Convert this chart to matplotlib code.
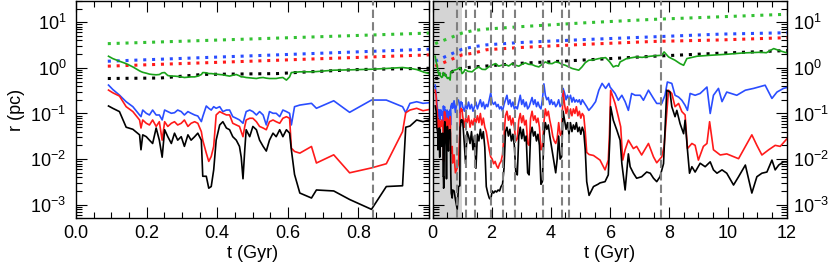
import numpy as np
import matplotlib.pyplot as plt
from matplotlib.ticker import MultipleLocator, LogLocator, NullFormatter

plt.rcParams['font.family'] = ['Liberation Sans', 'DejaVu Sans']
plt.rcParams['mathtext.fontset'] = 'custom'
plt.rcParams['mathtext.rm'] = 'Liberation Sans'
plt.rcParams['mathtext.it'] = 'Liberation Sans:italic'

# ---- first Gyr (shown in the left panel and in the grey band on the right)
t_early = [0.092, 0.104, 0.123, 0.142, 0.161, 0.180, 0.184, 0.189, 0.199, 0.208,
           0.217, 0.227, 0.236, 0.244, 0.251, 0.260, 0.270, 0.279, 0.288, 0.298,
           0.307, 0.317, 0.326, 0.336, 0.345, 0.355, 0.359, 0.369, 0.376, 0.383,
           0.390, 0.397, 0.407, 0.416, 0.426, 0.435, 0.444, 0.454, 0.463, 0.468,
           0.473, 0.478, 0.482, 0.492, 0.501, 0.511, 0.520, 0.530, 0.539, 0.548,
           0.558, 0.567, 0.577, 0.586, 0.596, 0.605,
           0.610, 0.619, 0.634, 0.667, 0.681, 0.730, 0.775, 0.837, 0.879, 0.925,
           0.934, 0.946, 0.965, 0.983, 1.000]

black_early = [0.146, 0.13, 0.11, 0.050, 0.045, 0.034, 0.016, 0.034, 0.031, 0.026,
               0.022, 0.048, 0.026, 0.011, 0.044, 0.031, 0.022, 0.037, 0.026, 0.031,
               0.019, 0.034, 0.026, 0.031, 0.037, 0.026, 0.0042, 0.0042, 0.0023, 0.0025,
               0.0058, 0.026, 0.056, 0.066, 0.048, 0.044, 0.031, 0.026, 0.019, 0.011,
               0.0037, 0.016, 0.044, 0.031, 0.052, 0.044, 0.026, 0.019, 0.015, 0.026,
               0.037, 0.031, 0.044, 0.031, 0.044, 0.037,
               0.016, 0.0046, 0.0018, 0.0014, 0.0021, 0.0020, 0.0013, 0.00079, 0.0025, 0.0026,
               0.050, 0.053, 0.072, 0.066, 0.072]

red_early = [0.326, 0.285, 0.241, 0.141, 0.11, 0.072, 0.048, 0.072, 0.061, 0.056,
             0.072, 0.052, 0.066, 0.026, 0.066, 0.052, 0.061, 0.066, 0.056, 0.061,
             0.072, 0.052, 0.061, 0.066, 0.061, 0.040, 0.026, 0.0135, 0.0089, 0.0114,
             0.019, 0.093, 0.11, 0.101, 0.093, 0.093, 0.061, 0.056, 0.052, 0.040,
             0.031, 0.052, 0.072, 0.0785, 0.0785, 0.066, 0.052, 0.048, 0.044, 0.066,
             0.072, 0.066, 0.061, 0.0785, 0.085, 0.0785,
             0.0174, 0.0147, 0.0135, 0.0189, 0.0082, 0.0124, 0.0050, 0.0064, 0.0079, 0.040,
             0.104, 0.119, 0.13, 0.115, 0.122]

blue_early = [0.42, 0.337, 0.253, 0.181, 0.141, 0.0927, 0.0853, 0.119, 0.101, 0.0927,
              0.119, 0.0927, 0.0927, 0.0722, 0.119, 0.11, 0.101, 0.104, 0.119, 0.11,
              0.0927, 0.11, 0.101, 0.0927, 0.0881, 0.0664, 0.0853, 0.146, 0.13, 0.119,
              0.141, 0.13, 0.141, 0.11, 0.119, 0.119, 0.0853, 0.0785, 0.0722, 0.0664,
              0.061, 0.0853, 0.11, 0.119, 0.11, 0.0927, 0.11, 0.0927, 0.0561, 0.11,
              0.101, 0.101, 0.0853, 0.119, 0.11, 0.101,
              0.0561, 0.141, 0.153, 0.167, 0.13, 0.19, 0.106, 0.197, 0.197, 0.141,
              0.104, 0.167, 0.181, 0.167, 0.172]

green_early = [1.80, 1.60, 1.40, 1.24, 1.05, 0.86, 0.83, 0.80, 0.765, 0.73,
               0.715, 0.705, 0.715, 0.78, 0.79, 0.68, 0.66, 0.66, 0.65, 0.635,
               0.615, 0.625, 0.635, 0.635, 0.66, 0.715, 0.79, 0.78, 0.75, 0.75,
               0.74, 0.73, 0.715, 0.705, 0.68, 0.66, 0.69, 0.715, 0.67, 0.635,
               0.635, 0.625, 0.615, 0.605, 0.595, 0.585, 0.605, 0.615, 0.595, 0.585,
               0.585, 0.585, 0.605, 0.615, 0.54, 0.635,
               0.79, 0.80, 0.82, 0.82, 0.83, 0.89, 0.905, 0.935, 0.97, 1.02,
               1.0, 0.98, 0.92, 0.82, 0.75]

# ---- 1 - 5.2 Gyr, common sampling
t_mid = [1.02, 1.08, 1.12, 1.17, 1.22, 1.27, 1.32, 1.37, 1.42, 1.47,
         1.52, 1.57, 1.62, 1.67, 1.72, 1.77, 1.82, 1.87, 1.92, 1.97,
         2.02, 2.07, 2.12, 2.17, 2.22, 2.27, 2.32, 2.37, 2.42, 2.47,
         2.52, 2.57, 2.62, 2.67, 2.72, 2.77, 2.82, 2.87, 2.92, 2.97,
         3.02, 3.07, 3.12, 3.17, 3.22, 3.27, 3.32, 3.37, 3.42, 3.47,
         3.52, 3.57, 3.62, 3.67, 3.72, 3.77, 3.82, 3.87, 3.92, 3.97,
         4.02, 4.07, 4.12, 4.17, 4.22, 4.27, 4.32, 4.37, 4.42, 4.47,
         4.52, 4.57, 4.62, 4.67, 4.72, 4.77, 4.82, 4.87, 4.92, 4.97,
         5.02, 5.07, 5.12, 5.17, 5.22]

blue_mid = [0.141, 0.112, 0.158, 0.126, 0.178, 0.126, 0.158, 0.112, 0.141, 0.178,
            0.126, 0.158, 0.2, 0.141, 0.178, 0.126, 0.158, 0.141, 0.2, 0.282,
            0.178, 0.158, 0.178, 0.141, 0.158, 0.126, 0.141, 0.112, 0.158, 0.2,
            0.251, 0.158, 0.2, 0.141, 0.178, 0.126, 0.141, 0.126, 0.178, 0.251,
            0.158, 0.2, 0.141, 0.178, 0.126, 0.141, 0.178, 0.224, 0.158, 0.2,
            0.141, 0.178, 0.141, 0.126, 0.2, 0.447, 0.251, 0.2, 0.224, 0.158,
            0.2, 0.158, 0.178, 0.141, 0.158, 0.2, 0.141, 0.158, 0.355, 0.282,
            0.2, 0.251, 0.2, 0.251, 0.178, 0.224, 0.178, 0.2, 0.178, 0.2,
            0.158, 0.2, 0.178, 0.158, 0.141]

red_mid = [0.089, 0.05, 0.079, 0.063, 0.089, 0.05, 0.071, 0.056, 0.079, 0.063,
           0.089, 0.063, 0.1, 0.056, 0.079, 0.05, 0.04, 0.025, 0.016, 0.0112,
           0.01, 0.0079, 0.0089, 0.0071, 0.0063, 0.0079, 0.0089, 0.0126, 0.032, 0.089,
           0.112, 0.071, 0.089, 0.056, 0.079, 0.05, 0.025, 0.028, 0.071, 0.1,
           0.063, 0.089, 0.056, 0.071, 0.022, 0.02, 0.079, 0.112, 0.071, 0.089,
           0.063, 0.079, 0.05, 0.016, 0.018, 0.063, 0.126, 0.089, 0.112, 0.071,
           0.05, 0.032, 0.025, 0.022, 0.028, 0.063, 0.035, 0.032, 0.316, 0.158,
           0.1, 0.141, 0.079, 0.126, 0.089, 0.126, 0.1, 0.141, 0.089, 0.112,
           0.079, 0.1, 0.089, 0.04, 0.014]

black_mid = [0.071, 0.02, 0.0079, 0.04, 0.032, 0.022, 0.04, 0.016, 0.032, 0.0063,
             0.035, 0.025, 0.045, 0.028, 0.04, 0.018, 0.0025, 0.0018, 0.0014, 0.0013,
             0.002, 0.0018, 0.002, 0.0019, 0.0021, 0.002, 0.0025, 0.0028, 0.0063, 0.04,
             0.05, 0.032, 0.045, 0.025, 0.035, 0.02, 0.005, 0.0045, 0.032, 0.05,
             0.028, 0.045, 0.025, 0.032, 0.005, 0.0045, 0.035, 0.05, 0.032, 0.04,
             0.025, 0.035, 0.02, 0.0028, 0.0032, 0.032, 0.063, 0.045, 0.056, 0.032,
             0.02, 0.0126, 0.0079, 0.005, 0.01, 0.032, 0.01, 0.0112, 0.112, 0.071,
             0.045, 0.063, 0.035, 0.063, 0.04, 0.056, 0.045, 0.063, 0.04, 0.05,
             0.035, 0.05, 0.04, 0.016, 0.0032]

# ---- after 5.2 Gyr
t_black_tail = [5.3, 5.45, 5.6, 5.67, 5.84, 5.95, 6.0, 6.03, 6.12, 6.24,
                6.35, 6.41, 6.52, 6.63, 6.69, 6.8, 6.91, 7.08, 7.25, 7.37,
                7.48, 7.59, 7.7, 7.82, 7.87, 7.93, 8.04, 8.1, 8.21, 8.27,
                8.38, 8.5, 8.55, 8.63, 8.7, 8.78, 8.89, 9.06, 9.23, 9.4,
                9.51, 9.63, 9.8, 9.96, 10.19, 10.36, 10.59, 10.81, 10.98, 11.15,
                11.32, 11.49, 11.6, 11.72, 11.88, 12.0]
black_tail = [0.0016, 0.0025, 0.0028, 0.003, 0.0032, 0.0045, 0.025, 0.141, 0.071, 0.043,
              0.026, 0.0079, 0.0021, 0.013, 0.0068, 0.0049, 0.0038, 0.0041, 0.0052, 0.0049,
              0.0038, 0.0032, 0.0041, 0.0079, 0.043, 0.324, 0.295, 0.141, 0.085, 0.117,
              0.06, 0.036, 0.071, 0.016, 0.0049, 0.0068, 0.0052, 0.0081, 0.0068, 0.0087,
              0.0058, 0.0049, 0.0058, 0.0049, 0.0027, 0.0041, 0.0074, 0.0018, 0.0041, 0.0049,
              0.0052, 0.0095, 0.0058, 0.0074, 0.0087, 0.0087]

t_red_tail = [5.3, 5.45, 5.67, 5.84, 5.95, 5.99, 6.03, 6.18, 6.29, 6.37,
              6.44, 6.52, 6.63, 6.8, 6.91, 7.08, 7.31, 7.48, 7.59, 7.76,
              7.84, 7.91, 7.99, 8.1, 8.21, 8.33, 8.44, 8.55, 8.63, 8.78,
              8.89, 9.0, 9.17, 9.29, 9.38, 9.51, 9.74, 9.96, 10.36, 10.81,
              10.98, 11.15, 11.38, 11.6, 11.77, 12.0]
red_tail = [0.0126, 0.012, 0.0095, 0.0058, 0.0095, 0.035, 0.324, 0.166, 0.085, 0.051,
            0.0095, 0.016, 0.026, 0.017, 0.019, 0.0123, 0.022, 0.0112, 0.0083, 0.0112,
            0.019, 0.071, 0.324, 0.275, 0.141, 0.166, 0.11, 0.093, 0.017, 0.022,
            0.020, 0.0095, 0.019, 0.022, 0.066, 0.016, 0.0123, 0.013, 0.0102, 0.034,
            0.020, 0.0123, 0.016, 0.020, 0.019, 0.028]

t_blue_tail = [5.29, 5.4, 5.52, 5.63, 5.74, 5.86, 5.97, 6.01, 6.18, 6.29,
               6.41, 6.52, 6.63, 6.74, 6.86, 7.03, 7.14, 7.31, 7.48, 7.59,
               7.76, 7.87, 7.95, 8.1, 8.21, 8.33, 8.44, 8.55, 8.63, 8.72,
               8.89, 9.06, 9.29, 9.4, 9.51, 9.68, 9.8, 9.96, 10.3, 10.59,
               10.87, 11.26, 11.49, 11.66, 11.88, 12.0]
blue_tail = [0.117, 0.141, 0.182, 0.324, 0.457, 0.355, 0.457, 0.38, 0.275, 0.195,
             0.251, 0.182, 0.117, 0.275, 0.251, 0.251, 0.195, 0.324, 0.214, 0.166,
             0.166, 0.251, 0.49, 0.457, 0.251, 0.229, 0.195, 0.151, 0.117, 0.275,
             0.251, 0.275, 0.38, 0.1, 0.251, 0.355, 0.182, 0.295, 0.251, 0.324,
             0.355, 0.417, 0.214, 0.295, 0.355, 0.372]

t_green_late = [1.05, 1.1, 1.2, 1.34, 1.45, 1.56, 1.68, 1.79, 1.9, 2.0,
                2.13, 2.24, 2.35, 2.47, 2.58, 2.69, 2.8, 2.92, 3.03, 3.14,
                3.25, 3.37, 3.48, 3.6, 3.71, 3.82, 3.93, 4.05, 4.16, 4.27,
                4.38, 4.5, 4.61, 4.73, 4.84, 4.95, 5.06, 5.17, 5.29, 5.45,
                5.63, 5.86, 6.0, 6.12, 6.22, 6.29, 6.35, 6.57, 6.9, 7.1,
                7.37, 7.55, 7.76, 7.84, 7.99, 8.21, 8.38, 8.5, 8.61, 8.95,
                9.4, 9.96, 10.53, 11.09, 11.3, 11.55, 11.77, 12.0]
green_late = [0.8, 0.92, 0.84, 0.82, 0.95, 1.05, 0.93, 0.92, 1.05, 1.14,
              1.24, 1.09, 1.15, 1.18, 1.1, 1.24, 1.15, 1.09, 1.2, 1.29,
              1.2, 1.18, 1.1, 1.05, 1.2, 1.35, 1.25, 1.24, 1.35, 1.31,
              1.2, 1.14, 1.05, 0.97, 0.93, 0.89, 1.05, 1.3, 1.47, 1.5,
              1.6, 1.68, 1.35, 1.05, 1.12, 1.09, 1.35, 1.6, 1.74, 1.7,
              1.8, 1.85, 1.89, 2.24, 1.74, 1.47, 1.24, 1.14, 1.6, 1.8,
              1.89, 1.99, 2.13, 2.2, 2.15, 2.65, 2.36, 2.13]

# ---- dotted curves
t_dot_early = [0.09, 0.24, 0.36, 0.57, 0.66, 0.8, 1.0]
green_dot_early = [3.4, 3.71, 3.98, 4.5, 4.74, 5.15, 5.8]
blue_dot_early = [1.4, 1.55, 1.68, 1.93, 2.05, 2.25, 2.57]
red_dot_early = [1.09, 1.2, 1.29, 1.47, 1.56, 1.7, 1.93]
black_dot_early = [0.585, 0.6, 0.72, 0.75, 0.82, 0.92, 0.98]

t_dot_late = [1.38, 1.83, 2.96, 5.22, 7.48, 9.74, 12.0]
green_dot_late = [6.6, 7.1, 8.0, 9.8, 11.6, 13.2, 15.0]
blue_dot_late = [2.9, 3.2, 3.6, 4.2, 4.8, 5.5, 5.9]
red_dot_late = [2.1, 2.5, 2.8, 3.3, 3.8, 4.1, 4.6]
black_dot_late = [1.05, 1.1, 1.26, 1.5, 1.8, 2.1, 2.4]

events_left = [0.84]
events_right = [0.84, 1.13, 1.43, 1.98, 2.39, 2.80, 3.73, 4.38, 4.63, 7.73]

c_black = 'black'
c_red = '#ff1a1a'
c_blue = '#2a4dff'
c_green = '#1aa31a'
c_green_dot = '#33c133'
dot = (0, (1, 1.9))

fig = plt.figure(figsize=(8.3, 2.67), dpi=100)
ax1 = fig.add_axes([0.0916, 0.182, 0.4253, 0.816])
ax2 = fig.add_axes([0.5211, 0.182, 0.4271, 0.816])

# left panel
ax1.plot(t_dot_early, black_dot_early, color=c_black, ls=dot, lw=2.2)
ax1.plot(t_dot_early, red_dot_early, color=c_red, ls=dot, lw=2.2)
ax1.plot(t_dot_early, blue_dot_early, color=c_blue, ls=dot, lw=2.2)
ax1.plot(t_dot_early, green_dot_early, color=c_green_dot, ls=dot, lw=2.2)
ax1.plot(t_early, green_early, color=c_green, lw=1.2)
ax1.plot(t_early, blue_early, color=c_blue, lw=1.2)
ax1.plot(t_early, red_early, color=c_red, lw=1.2)
ax1.plot(t_early, black_early, color=c_black, lw=1.2)
for te in events_left:
    ax1.axvline(te, color='#808080', ls=(0, (4, 2)), lw=1.5, zorder=5)

# right panel
ax2.axvspan(0, 1.0, color='#d4d4d4', lw=0, zorder=0)
ax2.plot(t_dot_early + t_dot_late, black_dot_early + black_dot_late, color=c_black, ls=dot, lw=2.2)
ax2.plot(t_dot_early + t_dot_late, red_dot_early + red_dot_late, color=c_red, ls=dot, lw=2.2)
ax2.plot(t_dot_early + t_dot_late, blue_dot_early + blue_dot_late, color=c_blue, ls=dot, lw=2.2)
ax2.plot(t_dot_early + t_dot_late, green_dot_early + green_dot_late, color=c_green_dot, ls=dot, lw=2.2)
ax2.plot(t_early + t_green_late, green_early + green_late, color=c_green, lw=1.2)
ax2.plot(t_early + t_mid + t_blue_tail, blue_early + blue_mid + blue_tail, color=c_blue, lw=1.2)
ax2.plot(t_early + t_mid + t_red_tail, red_early + red_mid + red_tail, color=c_red, lw=1.2)
ax2.plot(t_early + t_mid + t_black_tail, black_early + black_mid + black_tail, color=c_black, lw=1.2)
for te in events_right:
    ax2.axvline(te, color='#808080', ls=(0, (4, 2)), lw=1.5, zorder=5)

for ax in (ax1, ax2):
    ax.set_yscale('log')
    ax.set_ylim(5e-4, 30)
    ax.yaxis.set_major_locator(LogLocator(base=10, numticks=10))
    ax.yaxis.set_minor_locator(LogLocator(base=10, subs=np.arange(2, 10), numticks=10))
    ax.yaxis.set_minor_formatter(NullFormatter())
    ax.tick_params(which='both', direction='in', top=True, bottom=True,
                   left=True, right=True, width=0.8)
    ax.tick_params(which='major', length=8, labelsize=13)
    ax.tick_params(which='minor', length=4)
    ax.tick_params(axis='y', pad=7)
    ax.tick_params(axis='x', pad=5)
    for s in ax.spines.values():
        s.set_linewidth(1.0)
    ax.set_xlabel('t (Gyr)', fontsize=13, labelpad=2)

ax1.set_xlim(0, 1.0)
ax1.set_xticks([0.0, 0.2, 0.4, 0.6, 0.8, 1.0])
ax1.set_xticklabels(['0.0', '0.2', '0.4', '0.6', '0.8', ''])
ax1.xaxis.set_minor_locator(MultipleLocator(0.05))
ax1.set_ylabel('r (pc)', fontsize=13, labelpad=4)

ax2.set_xlim(0, 12)
ax2.xaxis.set_major_locator(MultipleLocator(2))
ax2.xaxis.set_minor_locator(MultipleLocator(0.5))
ax2.tick_params(axis='y', labelleft=False, labelright=True, pad=4)

fig.savefig('out.png', dpi=100)
